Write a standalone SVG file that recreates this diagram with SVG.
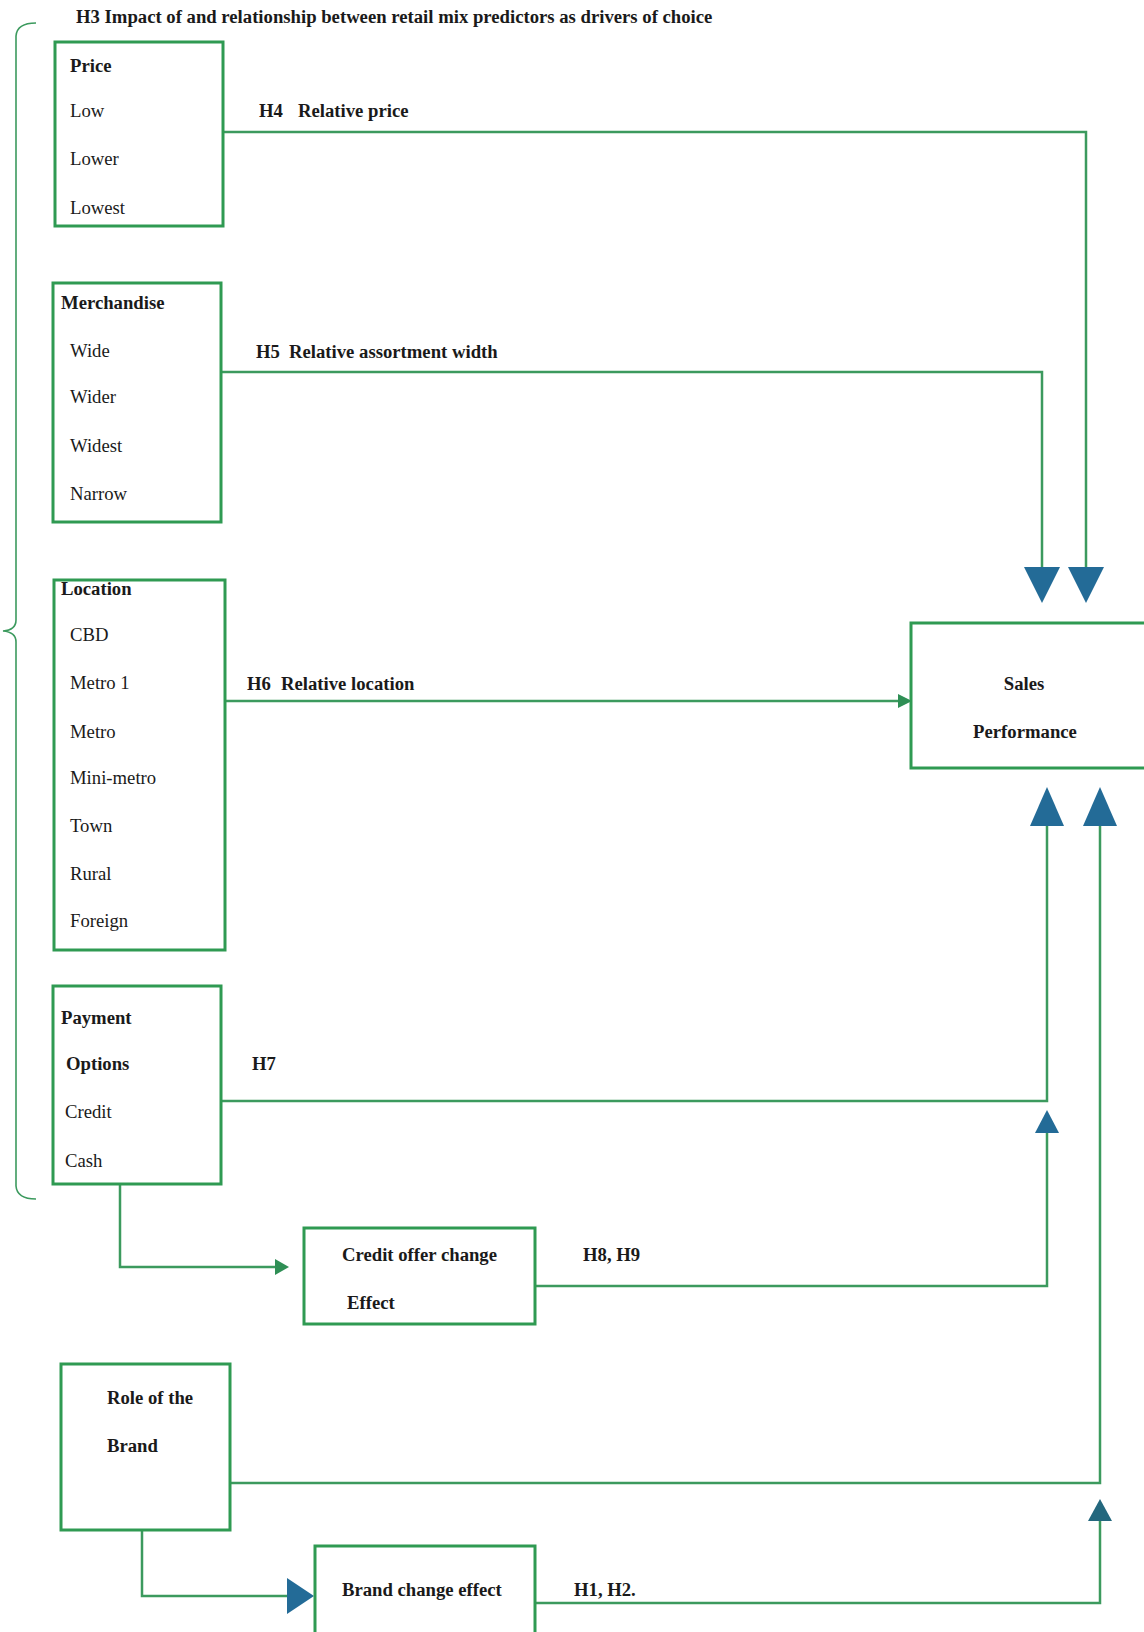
<svg xmlns="http://www.w3.org/2000/svg" width="1144" height="1632" viewBox="0 0 1144 1632">
  <style>
    .box { fill: #ffffff; stroke: #2f9a52; stroke-width: 3; }
    .wire { fill: none; stroke: #3c9a5e; stroke-width: 2.5; }
    .brace { fill: none; stroke: #3c9a5e; stroke-width: 1.6; }
    .big { fill: #236b97; }
    .tealhead { fill: #24687e; }
    .greenhead { fill: #2f8f55; }
    text { font-family: "Liberation Serif", "Times New Roman", serif; font-size: 18.7px; fill: #1a1a1a; }
    .b { font-weight: bold; }
  </style>
  <rect width="1144" height="1632" fill="#ffffff"/>

  <!-- heading -->
  <text class="b" x="76" y="23">H3 Impact of and relationship between retail mix predictors as drivers of choice</text>

  <!-- brace spanning the retail mix predictors -->
  <path class="brace" d="M36,23 Q17,23 16,36 L16,620 Q16,630 3,631 Q16,632 16,642 L16,1186 Q17,1199 36,1199"/>

  <!-- connectors -->
  <g id="connectors">
    <path class="wire" d="M223,132 H1086 V568"/>
    <path class="wire" d="M221,372 H1042 V568"/>
    <path class="wire" d="M225,701 H900"/>
    <path class="wire" d="M221,1101 H1047 V822"/>
    <path class="wire" d="M535,1286 H1047 V1130"/>
    <path class="wire" d="M230,1483 H1100 V822"/>
    <path class="wire" d="M535,1603 H1100 V1519"/>
    <path class="wire" d="M120,1184 V1267 H276"/>
    <path class="wire" d="M142,1530 V1596 H288"/>

    <polygon class="big" points="1024,567 1060,567 1042,603"/>
    <polygon class="big" points="1068,567 1104,567 1086,603"/>
    <polygon class="big" points="1030,826 1064,826 1047,787"/>
    <polygon class="big" points="1083,826 1117,826 1100,787"/>
    <polygon class="big" points="1035,1133 1059,1133 1047,1110"/>
    <polygon class="tealhead" points="1088,1521 1112,1521 1100,1499"/>
    <polygon class="greenhead" points="898,694 912,701 898,708"/>
    <polygon class="greenhead" points="275,1259 289,1267 275,1275"/>
    <polygon class="big" points="287,1578 314,1596 287,1614"/>
  </g>

  <!-- connector labels -->
  <text class="b" y="117"><tspan x="259">H4</tspan><tspan x="298">Relative price</tspan></text>
  <text class="b" y="358"><tspan x="256">H5</tspan><tspan x="289">Relative assortment width</tspan></text>
  <text class="b" y="690"><tspan x="247">H6</tspan><tspan x="281">Relative location</tspan></text>
  <text class="b" x="252" y="1070">H7</text>
  <text class="b" x="583" y="1261">H8, H9</text>
  <text class="b" x="574" y="1596">H1, H2.</text>

  <g id="price">
    <rect class="box" x="55" y="42" width="168" height="184"/>
    <text class="b" x="70" y="72">Price</text>
    <text x="70" y="117">Low</text>
    <text x="70" y="165">Lower</text>
    <text x="70" y="214">Lowest</text>
  </g>

  <g id="merchandise">
    <rect class="box" x="53" y="283" width="168" height="239"/>
    <text class="b" x="61" y="309">Merchandise</text>
    <text x="70" y="357">Wide</text>
    <text x="70" y="403">Wider</text>
    <text x="70" y="452">Widest</text>
    <text x="70" y="500">Narrow</text>
  </g>

  <g id="location">
    <rect class="box" x="54" y="580" width="171" height="370"/>
    <text class="b" x="61" y="595">Location</text>
    <text x="70" y="641">CBD</text>
    <text x="70" y="689">Metro 1</text>
    <text x="70" y="738">Metro</text>
    <text x="70" y="784">Mini-metro</text>
    <text x="70" y="832">Town</text>
    <text x="70" y="880">Rural</text>
    <text x="70" y="927">Foreign</text>
  </g>

  <g id="sales-performance">
    <rect class="box" x="911" y="623" width="240" height="145"/>
    <text class="b" x="1024" y="690" text-anchor="middle">Sales</text>
    <text class="b" x="1025" y="738" text-anchor="middle">Performance</text>
  </g>

  <g id="payment-options">
    <rect class="box" x="53" y="986" width="168" height="198"/>
    <text class="b" x="61" y="1024">Payment</text>
    <text class="b" x="66" y="1070">Options</text>
    <text x="65" y="1118">Credit</text>
    <text x="65" y="1167">Cash</text>
  </g>

  <g id="credit-offer-change">
    <rect class="box" x="304" y="1228" width="231" height="96"/>
    <text class="b" x="342" y="1261">Credit offer change</text>
    <text class="b" x="347" y="1309">Effect</text>
  </g>

  <g id="role-of-brand">
    <rect class="box" x="61" y="1364" width="169" height="166"/>
    <text class="b" x="107" y="1404">Role of the</text>
    <text class="b" x="107" y="1452">Brand</text>
  </g>

  <g id="brand-change-effect">
    <rect class="box" x="315" y="1546" width="220" height="100"/>
    <text class="b" x="342" y="1596">Brand change effect</text>
  </g>
</svg>
